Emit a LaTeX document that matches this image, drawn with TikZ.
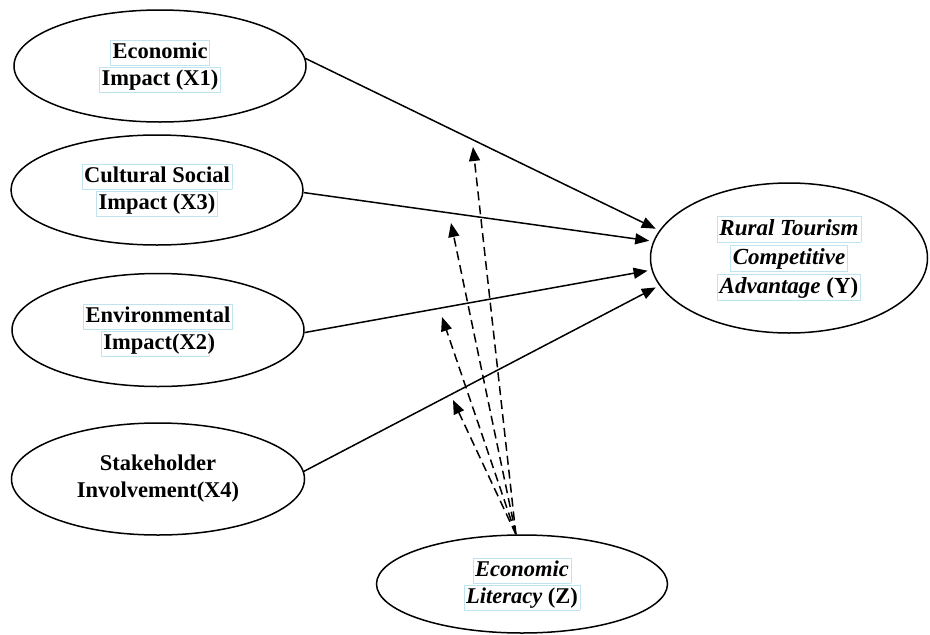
\documentclass[tikz,border=0pt]{standalone}
\usepackage{fontspec}
\setmainfont{Liberation Serif}
\usetikzlibrary{shapes.geometric,arrows.meta}
\definecolor{boxc}{RGB}{190,228,240}
\newcommand\bx[1]{{\setlength\fboxsep{0pt}\setlength\fboxrule{0.5pt}\fcolorbox{boxc}{white}{\hspace{2pt}\rule[-6.5pt]{0pt}{25pt}#1\hspace{2pt}}}}
\tikzset{
  construct/.style={ellipse, draw, line width=1.5pt, inner sep=0pt, align=center,
    font=\fontsize{22.5}{27}\selectfont\bfseries},
  path/.style={line width=1.5pt, -{Triangle[length=14pt,width=11pt]}, shorten >=4pt},
  modpath/.style={line width=1.5pt, dash pattern=on 9pt off 5pt, -{Triangle[length=14pt,width=11pt]}}
}
\begin{document}
\begin{tikzpicture}[x=1pt,y=-1pt]
\useasboundingbox (0,0) rectangle (930,635);
\node[construct, minimum width=292pt, minimum height=112pt] (x1) at (160,66) {\bx{Economic}\\\bx{Impact (X1)}};
\node[construct, minimum width=292pt, minimum height=110pt] (x3) at (157,190) {\bx{Cultural Social}\\\bx{Impact (X3)}};
\node[construct, minimum width=292pt, minimum height=113pt] (x2) at (158,330) {\bx{Environmental}\\\bx{Impact(X2}\hspace{-2pt})};
\node[construct, minimum width=293pt, minimum height=112pt] (x4) at (158,479) {Stakeholder\\Involvement(X4)};
\node[construct, minimum width=277pt, minimum height=150pt, font=\fontsize{23}{29}\selectfont\bfseries] (y) at (789,258)
  {\bx{\itshape Rural Tourism}\\\bx{\itshape Competitive}\\\bx{\textit{Advantage} (Y)}};
\node[construct, minimum width=291pt, minimum height=98pt] (z) at (522,584) {\bx{\itshape Economic}\\\bx{\textit{Literacy} (Z)}};
% direct paths
\draw[path] (x1.3.5) -- (y.168);
\draw[path] (x3.-1) -- (y.173);
\draw[path] (x2.-1) -- (y.185);
\draw[path] (x4.3.5) -- (y.192);
% moderation paths
\coordinate (m1) at (473,147);
\coordinate (m2) at (451,223);
\coordinate (m3) at (442,317);
\coordinate (m4) at (453,400);
\draw[modpath] (z.97) -- (m1);
\draw[modpath] (z.97) -- (m2);
\draw[modpath] (z.97) -- (m3);
\draw[modpath] (z.97) -- (m4);
\end{tikzpicture}
\end{document}
